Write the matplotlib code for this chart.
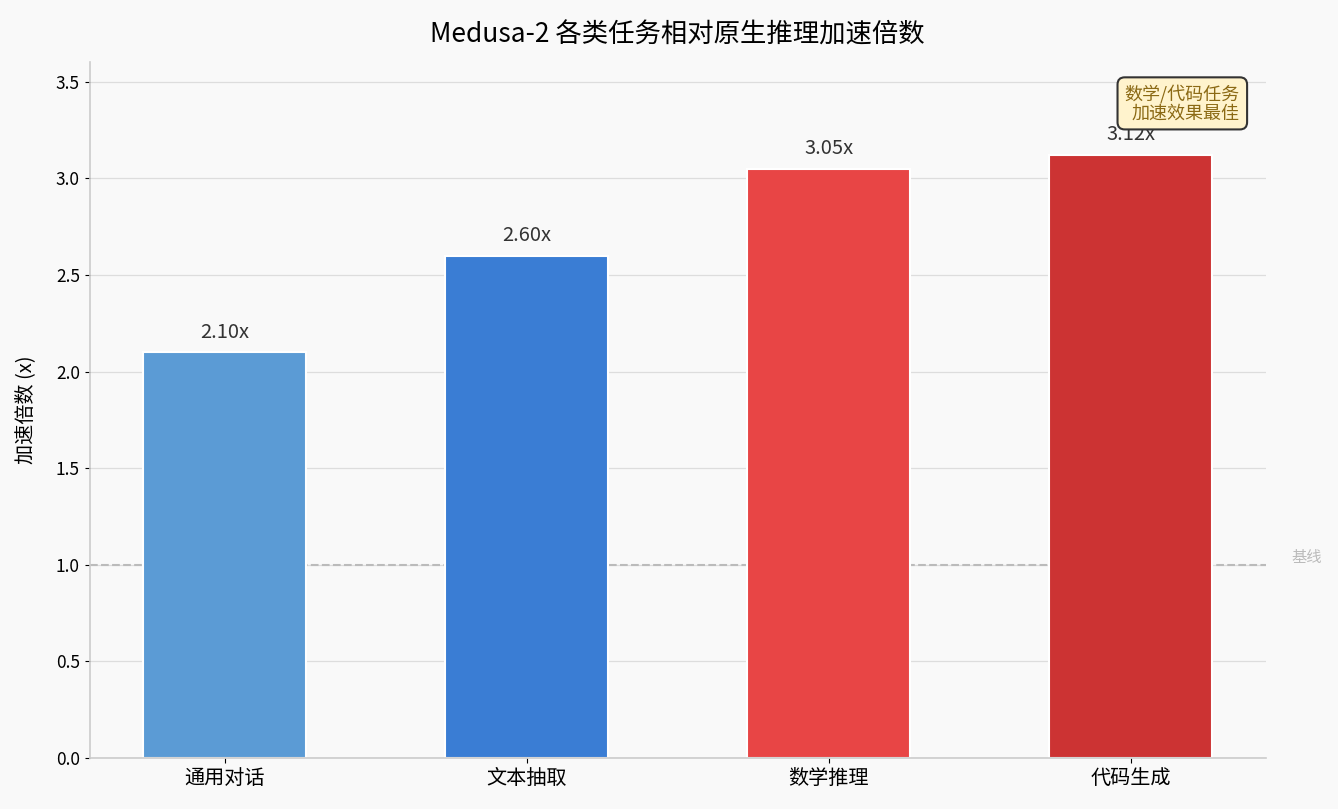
import matplotlib
matplotlib.use("Agg")
import matplotlib.pyplot as plt

plt.rcParams['font.family'] = ['Noto Sans CJK SC', 'DejaVu Sans']
plt.rcParams['axes.unicode_minus'] = False

# data
tasks = ["通用对话", "文本抽取", "数学推理", "代码生成"]
speedups = [2.10, 2.60, 3.05, 3.12]
bar_colors = ["#5B9BD5", "#3A7DD4", "#E84545", "#CC3333"]
baseline = 1.0

fig, ax = plt.subplots(figsize=(13.38, 8.09), dpi=100)
fig.patch.set_facecolor("#F9F9F9")
ax.set_facecolor("#F9F9F9")
fig.subplots_adjust(left=0.067, right=0.946, top=0.923, bottom=0.063)

ax.grid(axis="y", color="#DDDDDD", linewidth=0.9, zorder=0)
ax.set_axisbelow(True)
ax.axhline(baseline, color="#BBBBBB", linestyle="--", linewidth=1.5, zorder=1)

bars = ax.bar(range(len(tasks)), speedups, width=0.54, color=bar_colors,
              edgecolor="white", linewidth=1.5, zorder=2)

for b, v in zip(bars, speedups):
    ax.text(b.get_x() + b.get_width() / 2, v + 0.05, f"{v:.2f}x",
            ha="center", va="bottom", fontsize=14.5, color="#333333")

ax.set_xticks(range(len(tasks)))
ax.set_xticklabels(tasks, fontsize=14.5)
ax.set_ylim(0, 3.6)
ax.tick_params(axis="y", labelsize=12.5)
ax.set_ylabel("加速倍数 (x)", fontsize=14.5, labelpad=14)
ax.set_title("Medusa-2 各类任务相对原生推理加速倍数", fontsize=19, pad=14)

ax.text(1.035, (baseline + 0.04) / 3.6, "基线", transform=ax.transAxes,
        ha="center", va="center", fontsize=11, color="#BBBBBB")

ax.text(0.978, 0.968, "数学/代码任务\n加速效果最佳", transform=ax.transAxes,
        ha="right", va="top", fontsize=13, color="#8B6914", linespacing=1.05,
        bbox=dict(boxstyle="round,pad=0.4", facecolor="#FFF3CD",
                  edgecolor="#333333", linewidth=1.5))

for s in ["top", "right"]:
    ax.spines[s].set_visible(False)
for s in ["left", "bottom"]:
    ax.spines[s].set_color("#CCCCCC")
    ax.spines[s].set_linewidth(1.2)

fig.savefig("out.png", facecolor=fig.get_facecolor())
